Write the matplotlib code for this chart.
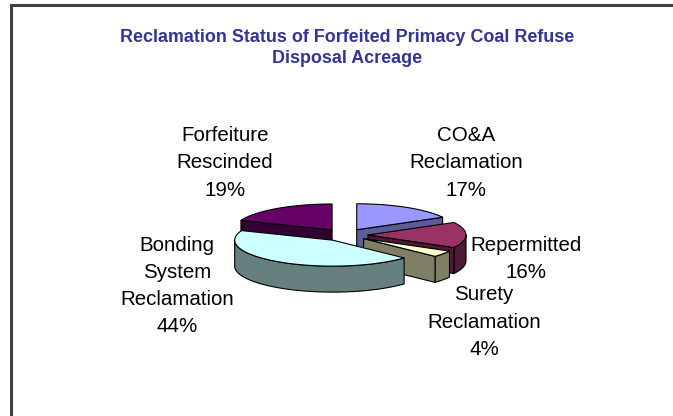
import numpy as np
import matplotlib
matplotlib.use("Agg")
import matplotlib.pyplot as plt
from matplotlib.patches import Polygon

plt.rcParams['font.family'] = ['Liberation Sans', 'DejaVu Sans']

title = "Reclamation Status of Forfeited Primacy Coal Refuse\nDisposal Acreage"
names = ["CO&A\nReclamation", "Repermitted", "Surety\nReclamation",
         "Bonding\nSystem\nReclamation", "Forfeiture\nRescinded"]
shares = [17, 16, 4, 44, 19]
top_colors = ["#9999FF", "#993366", "#FFFFCC", "#CCFFFF", "#660066"]
side_colors = ["#5C5C99", "#4D1A33", "#7F7F66", "#668080", "#330033"]

# layout (pixels, y grows downward)
W, H = 673, 416
cx, cy = 345, 235       # pie centre
R = 98                  # radius
k = 0.265               # tilt (vertical squash)
h = 26                  # thickness
d = 23                  # explode distance
label_pos = [(466, 163), (526, 259), (484, 322), (177, 286), (225, 163)]

fig = plt.figure(figsize=(W / 100, H / 100), dpi=100)
ax = fig.add_axes([0, 0, 1, 1])
ax.set_xlim(0, W)
ax.set_ylim(H, 0)
ax.axis('off')

# chart frame (right/bottom edges cut off)
ax.plot([11, 11, W + 5], [H + 5, 5, 5], color="#404040", lw=2.2,
        solid_joinstyle='miter')

ax.text(347, 48, title, ha='center', va='center', fontsize=12.9,
        fontweight='bold', color='#333399', linespacing=1.3)

vals = np.array(shares, dtype=float)
frac = vals / vals.sum()
cum = np.concatenate([[0], np.cumsum(frac)])
starts = 90 - 360 * cum[:-1]   # math angles, going clockwise
ends = 90 - 360 * cum[1:]


def pt(ox, oy, r, th, drop=0.0):
    t = np.radians(th)
    return (cx + ox + r * np.cos(t), cy + oy - k * r * np.sin(t) + drop)


def add_poly(pts, fc, z):
    ax.add_patch(Polygon(pts, closed=True, fc=fc, ec='black', lw=0.8,
                         joinstyle='round', zorder=z))


mids = (starts + ends) / 2
order = np.argsort(-np.sin(np.radians(mids)))
z = 2
for i in order:
    a, b = ends[i], starts[i]           # a < b
    m = np.radians(mids[i])
    ox, oy = d * np.cos(m), -k * d * np.sin(m)

    # outer wall: parts of the arc facing the viewer (sin < 0)
    for off in (-360, 0, 360):
        lo, hi = max(a, -180 + off), min(b, 0 + off)
        if hi > lo:
            th = np.linspace(lo, hi, 60)
            upper = [pt(ox, oy, R, t) for t in th]
            lower = [pt(ox, oy, R, t, h) for t in th[::-1]]
            add_poly(upper + lower, side_colors[i], z)
            z += 1

    # radial walls that face the viewer
    for th, nrm in ((a, a - 90), (b, b + 90)):
        if np.sin(np.radians(nrm)) < -1e-6:
            c0 = pt(ox, oy, 0, th)
            c1 = pt(ox, oy, R, th)
            add_poly([c0, c1, (c1[0], c1[1] + h), (c0[0], c0[1] + h)],
                     side_colors[i], z)
            z += 1

    # top face
    th = np.linspace(a, b, 80)
    top = [pt(ox, oy, 0, 0)] + [pt(ox, oy, R, t) for t in th]
    add_poly(top, top_colors[i], z)
    z += 1

for i, (x, y) in enumerate(label_pos):
    ax.text(x, y, f"{names[i]}\n{shares[i]}%", ha='center', va='center',
            fontsize=14.8, color='black', linespacing=1.55, zorder=50)

fig.savefig("out.png", dpi=100, facecolor='white')
